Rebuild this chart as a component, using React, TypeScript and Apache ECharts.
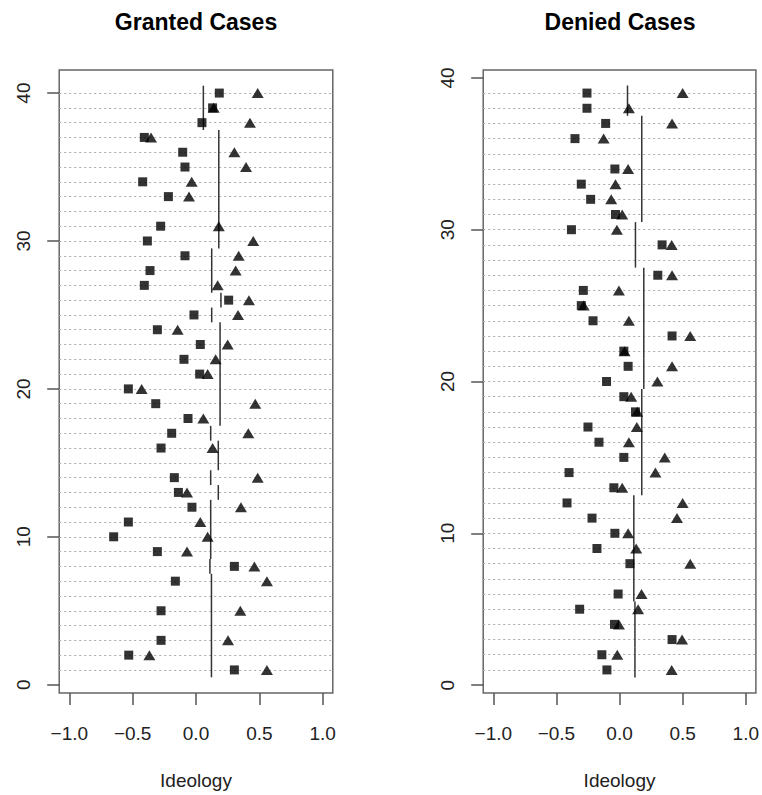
import React, { useEffect, useRef } from "react";
import * as echarts from "echarts";

// ---------- Data ----------
const xTicks = [-1, -0.5, 0, 0.5, 1];
const yTicks = [0, 10, 20, 30, 40];

const grantedRows = [40, 39, 38, 37, 36, 35, 34, 33, 32, 31, 30, 29, 28, 27, 26, 25, 24, 23, 22, 21, 20, 19, 18, 17, 16, 15, 14, 13, 12, 11, 10, 9, 8, 7, 6, 5, 4, 3, 2, 1];
const grantedSquare = [0.184, 0.131, 0.047, -0.408, -0.105, -0.087, -0.421, -0.218, null, -0.279, -0.384, -0.087, -0.363, -0.408, 0.258, -0.016, -0.305, 0.034, -0.095, 0.029, -0.534, -0.318, -0.063, -0.192, -0.276, null, -0.171, -0.139, -0.032, -0.534, -0.65, -0.305, 0.303, -0.163, null, -0.276, null, -0.276, -0.531, 0.303];
const grantedTriangle = [0.487, 0.14, 0.426, -0.355, 0.303, 0.395, -0.034, -0.055, null, 0.18, 0.452, 0.337, 0.313, 0.171, 0.418, 0.332, -0.145, 0.25, 0.155, 0.092, -0.429, 0.468, 0.058, 0.413, 0.131, null, 0.487, -0.071, 0.355, 0.034, 0.092, -0.071, 0.461, 0.56, null, 0.35, null, 0.253, -0.368, 0.56];
const grantedSegStart = [38, 30, 27, 26, 25, 18, 17, 15, 14, 13, 9, 8, 1];
const grantedSegEnd = [40, 37, 29, 26, 25, 24, 17, 16, 14, 13, 12, 8, 7];
const grantedSegValue = [0.058, 0.18, 0.124, 0.197, 0.124, 0.19, 0.116, 0.176, 0.116, 0.176, 0.116, 0.11, 0.122];

const deniedRows = [39, 38, 37, 36, 35, 34, 33, 32, 31, 30, 29, 28, 27, 26, 25, 24, 23, 22, 21, 20, 19, 18, 17, 16, 15, 14, 13, 12, 11, 10, 9, 8, 7, 6, 5, 4, 3, 2, 1];
const deniedSquare = [-0.258, -0.258, -0.11, -0.353, null, -0.037, -0.303, -0.229, -0.032, -0.381, 0.337, null, 0.303, -0.287, -0.303, -0.21, 0.416, 0.034, 0.068, -0.103, 0.034, 0.126, -0.25, -0.163, 0.034, -0.4, -0.045, -0.416, -0.218, -0.037, -0.179, 0.082, null, -0.011, -0.316, -0.04, 0.416, -0.14, -0.1];
const deniedTriangle = [0.5, 0.074, 0.416, -0.126, null, 0.068, -0.032, -0.066, 0.021, -0.021, 0.413, null, 0.416, -0.005, -0.284, 0.074, 0.56, 0.04, 0.416, 0.3, 0.092, 0.14, 0.137, 0.074, 0.358, 0.284, 0.021, 0.5, 0.455, 0.068, 0.132, 0.56, null, 0.174, 0.147, -0.005, 0.495, -0.018, 0.413];
const deniedSegStart = [38, 31, 28, 22, 20, 13, 6, 3, 1];
const deniedSegEnd = [39, 37, 30, 27, 21, 19, 12, 5, 2];
const deniedSegValue = [0.063, 0.176, 0.126, 0.192, 0.192, 0.176, 0.113, 0.122, 0.122];

const FONT = "'Liberation Sans', Arial, Helvetica, sans-serif";

const fmtX = (v: number) => (v < 0 ? "\u2212" : "") + Math.abs(v).toFixed(1);

function buildPanel(
  idx: number,
  left: number,
  rows: number[],
  sq: (number | null)[],
  tri: (number | null)[],
  segS: number[],
  segE: number[],
  segV: number[],
  yMin: number,
  yMax: number
) {
  const grid = {
    left,
    top: 70,
    width: 273.6,
    height: 625,
    show: true,
    borderColor: "#666",
    borderWidth: 1.5,
    backgroundColor: "transparent",
  };
  const xAxis = {
    gridIndex: idx,
    type: "value",
    position: "bottom",
    min: -1.08,
    max: 1.08,
    axisLine: { show: false, onZero: false },
    splitLine: { show: false },
    axisTick: { show: true, customValues: xTicks, length: 12, inside: false, lineStyle: { color: "#555", width: 1.5 } },
    axisLabel: { show: true, customValues: xTicks, margin: 31, fontSize: 19, color: "#222", fontFamily: FONT, formatter: fmtX },
    name: "Ideology",
    nameLocation: "middle",
    nameGap: 78,
    nameTextStyle: { fontSize: 19, color: "#222", fontFamily: FONT },
  };
  const yAxis = {
    gridIndex: idx,
    type: "value",
    position: "left",
    min: yMin,
    max: yMax,
    axisLine: { show: false, onZero: false },
    splitLine: { show: false },
    axisTick: { show: true, customValues: yTicks, length: 12, inside: false, lineStyle: { color: "#555", width: 1.5 } },
    axisLabel: { show: true, customValues: yTicks, rotate: 90, margin: 26, fontSize: 19, color: "#222", fontFamily: FONT },
  };
  const segData = segS.map((s, i) => [segV[i], s, segE[i]]);
  const sqData = rows.map((r, i) => (sq[i] == null ? null : [sq[i], r])).filter((d) => d !== null);
  const triData = rows.map((r, i) => (tri[i] == null ? null : [tri[i], r])).filter((d) => d !== null);
  const series = [
    {
      type: "custom",
      xAxisIndex: idx,
      yAxisIndex: idx,
      data: segData,
      encode: { x: 0, y: [1, 2] },
      z: 2,
      silent: true,
      renderItem: (_p: any, api: any) => {
        const v = api.value(0);
        const s = api.value(1);
        const e = api.value(2);
        const p1 = api.coord([v, s - 0.5]);
        const p2 = api.coord([v, e + 0.5]);
        return {
          type: "line",
          shape: { x1: p1[0], y1: p1[1], x2: p2[0], y2: p2[1] },
          style: { stroke: "#333", lineWidth: 1.5 },
        };
      },
      markLine: {
        silent: true,
        symbol: ["none", "none"],
        label: { show: false },
        lineStyle: { type: [2, 3], color: "#aaa", width: 1 },
        data: rows.map((r) => ({ yAxis: r })),
        z: 1,
      },
    },
    {
      type: "scatter",
      xAxisIndex: idx,
      yAxisIndex: idx,
      data: sqData,
      symbol: "rect",
      symbolSize: 9,
      itemStyle: { color: "#000" },
      z: 3,
      silent: true,
    },
    {
      type: "scatter",
      xAxisIndex: idx,
      yAxisIndex: idx,
      data: triData,
      symbol: "triangle",
      symbolSize: [12, 10],
      itemStyle: { color: "#000" },
      z: 4,
      silent: true,
    },
  ];
  return { grid, xAxis, yAxis, series };
}

export default function App() {
  const ref = useRef<HTMLDivElement>(null);
  useEffect(() => {
    if (!ref.current) return;
    const chart = echarts.init(ref.current, undefined, { renderer: "svg" });
    const p1 = buildPanel(0, 59.2, grantedRows, grantedSquare, grantedTriangle, grantedSegStart, grantedSegEnd, grantedSegValue, -0.56, 41.56);
    const p2 = buildPanel(1, 483.2, deniedRows, deniedSquare, deniedTriangle, deniedSegStart, deniedSegEnd, deniedSegValue, -0.52, 40.52);
    chart.setOption({
      animation: false,
      backgroundColor: "#fff",
      grid: [p1.grid, p2.grid],
      xAxis: [p1.xAxis, p2.xAxis],
      yAxis: [p1.yAxis, p2.yAxis],
      series: [...p1.series, ...p2.series],
      graphic: [
        {
          type: "text",
          x: 196,
          y: 22,
          style: { text: "Granted Cases", fontSize: 23, fontWeight: "bold", fontFamily: FONT, fill: "#000", textAlign: "center", textVerticalAlign: "middle", align: "center", verticalAlign: "middle" },
        },
        {
          type: "text",
          x: 620,
          y: 22,
          style: { text: "Denied Cases", fontSize: 23, fontWeight: "bold", fontFamily: FONT, fill: "#000", textAlign: "center", textVerticalAlign: "middle", align: "center", verticalAlign: "middle" },
        },
      ],
    } as any);
    return () => chart.dispose();
  }, []);
  return (
    <div
      ref={ref}
      style={{ position: "fixed", left: 0, top: 0, width: 762, height: 795, background: "#fff" }}
    />
  );
}
